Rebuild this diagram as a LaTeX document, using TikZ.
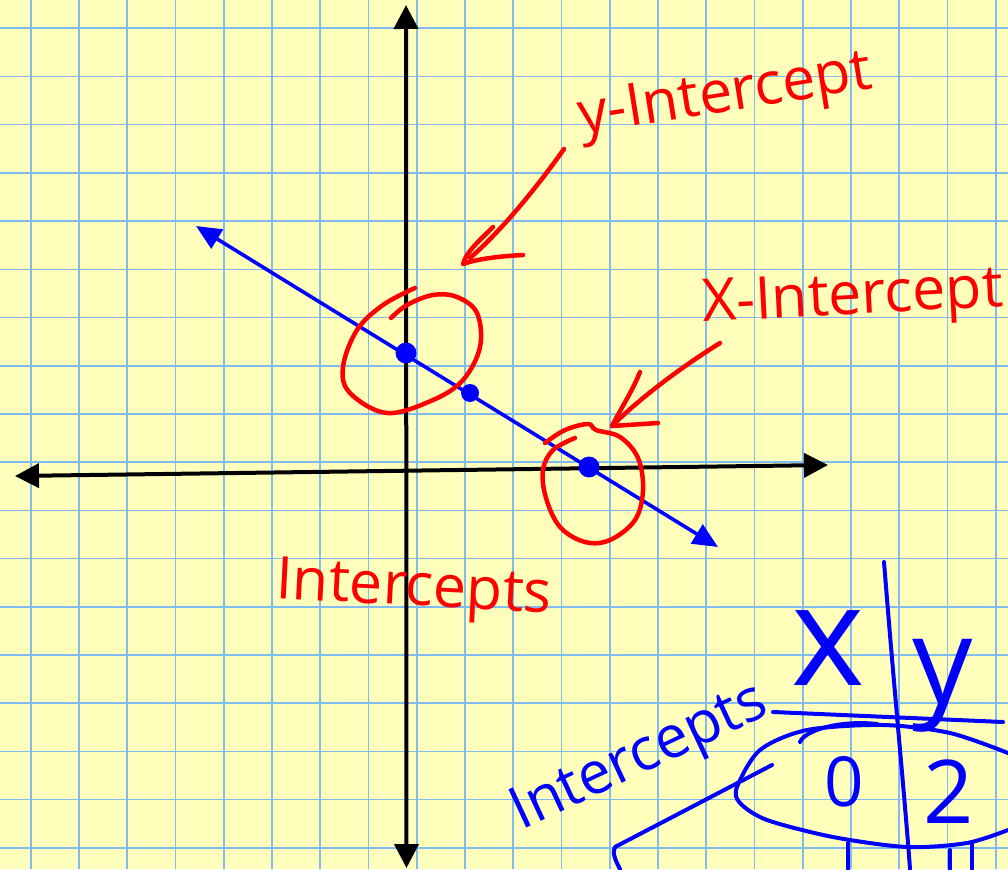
\documentclass[tikz,border=0pt]{standalone}
\usepackage{fontspec}
\setsansfont{Open Sans}
\usetikzlibrary{arrows.meta}
\definecolor{Paper}{HTML}{FFFFBB}
\definecolor{GridBlue}{HTML}{80BCF2}
\definecolor{Pen}{HTML}{FF0000}
\definecolor{Marker}{HTML}{0000FF}
\tikzset{axisline/.style={draw=black,line width=4pt,{Triangle[length=24pt,width=24pt]}-{Triangle[length=24pt,width=24pt]}},graphline/.style={draw=Marker,line width=3.6pt,{Triangle[length=25pt,width=22pt]}-{Triangle[length=25pt,width=22pt]}},redink/.style={draw=Pen,line width=4.5pt,line cap=round,line join=round},blueink/.style={draw=Marker,line width=4pt,line cap=round,line join=round},dot/.style={circle,fill=Marker,inner sep=0pt,minimum size=21pt},scrawl/.style={font=\sffamily\fontsize{59}{59}\selectfont},gridline/.style={draw=GridBlue,line width=1.6pt}}

\begin{document}
\begin{tikzpicture}[x=1pt,y=-1pt]
\useasboundingbox (0,0) rectangle (1008,869);\clip (0,0) rectangle (1008,869);
\fill[Paper] (0,0) rectangle (1008,869);
% squared paper, 48 px cells
\foreach \gx in {30.7,78.95,127.2,175.45,223.7,271.95,320.2,368.45,416.7,464.95,513.2,561.45,609.7,657.95,706.2,754.45,802.7,850.95,899.2,947.45,995.7} \draw[gridline] (\gx,0)--(\gx,869);
\foreach \gy in {28.3,76.5,124.7,172.9,221.1,269.3,317.5,365.7,413.9,462.1,510.3,558.5,606.7,654.9,703.1,751.3,799.5,847.7} \draw[gridline] (0,\gy)--(1008,\gy);
\coordinate (ytop) at (406,5);\coordinate (ybot) at (406.5,868);\coordinate (xleft) at (15,476);\coordinate (xright) at (828,465);
\draw[axisline] (ybot)--(ytop);\draw[axisline] (xleft)--(xright);
\coordinate (lineA) at (196,226);\coordinate (lineB) at (718,547);
\draw[graphline] (lineA)--(lineB);
\node[dot] (yint) at (406,353) {};\node[dot,minimum size=18pt] (midpt) at (470,393) {};\node[dot] (xint) at (589,467) {};
% red rings round the intercepts
\draw[redink] plot[smooth,tension=0.6] coordinates {(415,288) (383,305) (357,330) (343,367) (350,393) (387,413) (433,400) (463,380) (480,347) (477,313) (457,297) (433,295) (407,305) (391,318)};
\draw[redink] plot[smooth,tension=0.6] coordinates {(545,443) (565,430) (588,424) (596,430) (620,437) (638,458) (643,490) (635,520) (610,540) (585,542) (560,527) (546,498) (543,470) (553,450) (575,438)};
\coordinate (yarrowtail) at (564,149);\coordinate (yarrowtip) at (463,264);
\draw[redink] (yarrowtail) .. controls (535,190) and (500,232) .. (470,258);
\draw[redink] (493,227) .. controls (480,240) and (466,252) .. (yarrowtip) .. controls (480,258) and (505,256) .. (523,255);
\coordinate (xarrowtail) at (720,343);\coordinate (xarrowtip) at (612,426);
\draw[redink] (xarrowtail) .. controls (680,368) and (640,398) .. (xarrowtip);
\draw[redink] (640,372) .. controls (632,392) and (620,410) .. (xarrowtip) -- (658,423);
\node[scrawl,text=Pen,anchor=base west,rotate=9] (ylabel) at (578,135) {y-Intercept};
\node[scrawl,text=Pen,anchor=base west,rotate=3] (xlabel) at (700,322) {X-Intercept};
\node[scrawl,text=Pen,anchor=base west,rotate=-3] (redword) at (272,598) {Intercepts};
% table in blue
\node[scrawl,text=Marker,anchor=base west,rotate=25] (blueword) at (518,832) {Intercepts};
\draw[blueink] (884,562) .. controls (895,700) and (905,800) .. (910,869);
\draw[blueink] (773,712) -- (1003,722);
\node[text=Marker,font=\sffamily\fontsize{140}{140}\selectfont] (xhead) at (828,648) {x};
\node[text=Marker,font=\sffamily\fontsize{120}{120}\selectfont] (yhead) at (943,686) {y};
\node[text=Marker,font=\sffamily\fontsize{69}{69}\selectfont] (zero) at (844,782) {0};
\node[text=Marker,font=\sffamily\fontsize{88}{88}\selectfont] (two) at (949,792) {2};
\draw[blueink] plot[smooth] coordinates {(1008,753) (950,733) (883,725) (807,730) (760,750) (737,787) (740,803) (767,820) (833,837) (907,847) (967,843) (1008,830)};
\draw[blueink] (800,742) .. controls (805,730) and (840,720) .. (877,724);
\coordinate (bluetail) at (772,765);
\draw[blueink] (bluetail) -- (615,847) .. controls (612,852) and (615,860) .. (620,869);
\draw[blueink] (848,843)--(848,869);\draw[blueink] (950,850)--(950,869);\draw[blueink] (972,843)--(972,869);
\end{tikzpicture}
\end{document}
